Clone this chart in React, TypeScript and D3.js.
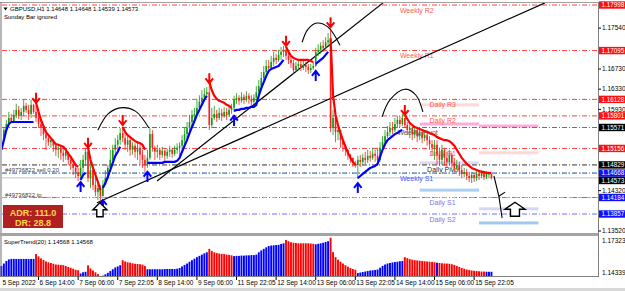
import React from 'react';
import * as d3 from 'd3';

// ---------- DATA ----------
const firstOpen = 1.1513;
const closes = [
1.1536,1.1552,1.1564,1.1576,1.1570,1.1582,1.1592,1.1580,1.1588,1.1600,
1.1592,1.1584,1.1602,1.1588,1.1576,1.1564,1.1556,1.1544,1.1536,1.1528,
1.1532,1.1521,1.1513,1.1517,1.1507,1.1501,1.1509,1.1493,1.1485,1.1477,
1.1469,1.1461,1.1477,1.1493,1.1509,1.1457,1.1473,1.1443,1.1429,1.1437,
1.1421,1.1443,1.1457,1.1477,1.1493,1.1513,1.1523,1.1532,1.1546,1.1536,
1.1523,1.1532,1.1513,1.1521,1.1509,1.1517,1.1503,1.1493,1.1483,1.1497,
1.1544,1.1517,1.1509,1.1513,1.1503,1.1511,1.1501,1.1509,1.1513,1.1505,
1.1513,1.1517,1.1521,1.1532,1.1544,1.1556,1.1568,1.1582,1.1584,1.1596,
1.1608,1.1616,1.1623,1.1627,1.1562,1.1576,1.1584,1.1576,1.1586,1.1580,
1.1588,1.1582,1.1592,1.1596,1.1612,1.1616,1.1610,1.1618,1.1612,1.1620,
1.1614,1.1608,1.1616,1.1627,1.1639,1.1655,1.1667,1.1679,1.1675,1.1687,
1.1695,1.1691,1.1701,1.1707,1.1711,1.1699,1.1691,1.1685,1.1671,1.1679,
1.1683,1.1675,1.1681,1.1677,1.1671,1.1675,1.1679,1.1707,1.1711,1.1719,
1.1715,1.1726,1.1730,1.1556,1.1576,1.1548,1.1552,1.1532,1.1523,1.1513,
1.1503,1.1497,1.1487,1.1483,1.1493,1.1489,1.1497,1.1493,1.1501,1.1497,
1.1505,1.1501,1.1493,1.1517,1.1528,1.1540,1.1548,1.1556,1.1552,1.1564,
1.1572,1.1564,1.1576,1.1562,1.1552,1.1556,1.1544,1.1552,1.1540,1.1548,
1.1536,1.1542,1.1532,1.1524,1.1517,1.1523,1.1503,1.1493,1.1513,1.1497,
1.1489,1.1503,1.1487,1.1477,1.1483,1.1473,1.1465,1.1469,1.1461,1.1457,
1.1463,1.1457,1.1465,1.1461,1.1467,1.1459,1.1465,1.1465,1.1457];
const highs = [
1.1540,1.1556,1.1572,1.1588,1.1584,1.1592,1.1604,1.1600,1.1596,1.1612,
1.1606,1.1602,1.1612,1.1604,1.1600,1.1584,1.1570,1.1560,1.1552,1.1540,
1.1538,1.1534,1.1524,1.1523,1.1521,1.1517,1.1515,1.1509,1.1501,1.1493,
1.1485,1.1477,1.1493,1.1503,1.1517,1.1511,1.1489,1.1477,1.1457,1.1449,
1.1443,1.1453,1.1473,1.1483,1.1513,1.1523,1.1536,1.1542,1.1556,1.1556,
1.1548,1.1540,1.1536,1.1528,1.1526,1.1528,1.1523,1.1513,1.1503,1.1513,
1.1556,1.1552,1.1521,1.1523,1.1517,1.1519,1.1513,1.1515,1.1521,1.1517,
1.1521,1.1526,1.1528,1.1542,1.1556,1.1568,1.1582,1.1592,1.1596,1.1612,
1.1621,1.1631,1.1635,1.1637,1.1639,1.1596,1.1600,1.1592,1.1596,1.1594,
1.1598,1.1596,1.1600,1.1604,1.1620,1.1625,1.1621,1.1627,1.1623,1.1629,
1.1625,1.1621,1.1623,1.1639,1.1651,1.1667,1.1679,1.1691,1.1691,1.1699,
1.1707,1.1703,1.1711,1.1717,1.1719,1.1713,1.1705,1.1697,1.1691,1.1687,
1.1691,1.1689,1.1689,1.1687,1.1683,1.1683,1.1687,1.1715,1.1722,1.1726,
1.1730,1.1736,1.1744,1.1750,1.1592,1.1578,1.1560,1.1544,1.1532,1.1521,
1.1513,1.1505,1.1497,1.1491,1.1501,1.1503,1.1505,1.1509,1.1513,1.1511,
1.1517,1.1513,1.1517,1.1528,1.1540,1.1552,1.1560,1.1568,1.1568,1.1576,
1.1580,1.1580,1.1584,1.1576,1.1568,1.1564,1.1560,1.1558,1.1556,1.1556,
1.1552,1.1550,1.1546,1.1540,1.1532,1.1532,1.1532,1.1517,1.1523,1.1517,
1.1509,1.1513,1.1507,1.1497,1.1493,1.1489,1.1483,1.1477,1.1475,1.1469,
1.1469,1.1467,1.1473,1.1469,1.1473,1.1469,1.1471,1.1469,1.1465];
const lows = [
1.1509,1.1536,1.1556,1.1568,1.1566,1.1572,1.1576,1.1574,1.1572,1.1580,
1.1586,1.1572,1.1576,1.1584,1.1568,1.1556,1.1540,1.1532,1.1513,1.1521,
1.1517,1.1509,1.1501,1.1497,1.1493,1.1489,1.1493,1.1483,1.1473,1.1463,
1.1457,1.1451,1.1457,1.1469,1.1481,1.1449,1.1437,1.1433,1.1421,1.1413,
1.1409,1.1441,1.1445,1.1461,1.1477,1.1491,1.1505,1.1513,1.1523,1.1528,
1.1513,1.1509,1.1501,1.1503,1.1497,1.1493,1.1483,1.1477,1.1469,1.1477,
1.1493,1.1509,1.1493,1.1497,1.1493,1.1497,1.1491,1.1495,1.1499,1.1497,
1.1501,1.1505,1.1501,1.1513,1.1524,1.1536,1.1548,1.1560,1.1572,1.1584,
1.1594,1.1604,1.1614,1.1620,1.1552,1.1556,1.1572,1.1568,1.1572,1.1570,
1.1576,1.1572,1.1578,1.1584,1.1588,1.1604,1.1602,1.1606,1.1604,1.1608,
1.1604,1.1600,1.1604,1.1606,1.1623,1.1637,1.1651,1.1663,1.1669,1.1675,
1.1679,1.1683,1.1687,1.1691,1.1697,1.1691,1.1683,1.1675,1.1663,1.1667,
1.1671,1.1669,1.1671,1.1667,1.1663,1.1665,1.1671,1.1677,1.1699,1.1703,
1.1707,1.1711,1.1719,1.1548,1.1542,1.1528,1.1532,1.1517,1.1509,1.1501,
1.1493,1.1487,1.1479,1.1477,1.1455,1.1479,1.1483,1.1485,1.1487,1.1489,
1.1493,1.1489,1.1481,1.1489,1.1513,1.1526,1.1536,1.1540,1.1544,1.1548,
1.1556,1.1558,1.1560,1.1556,1.1542,1.1536,1.1532,1.1536,1.1528,1.1532,
1.1526,1.1530,1.1521,1.1513,1.1501,1.1493,1.1483,1.1481,1.1483,1.1481,
1.1477,1.1481,1.1477,1.1469,1.1473,1.1461,1.1457,1.1459,1.1453,1.1449,
1.1447,1.1449,1.1451,1.1453,1.1457,1.1453,1.1455,1.1457,1.1454];
const superTrend = [
1.1513,1.1532,1.1552,1.1564,1.1568,1.1568,1.1568,1.1568,1.1568,1.1568,
1.1568,1.1568,1.1568,1.1568,1.1606,1.1588,1.1572,1.1560,1.1548,1.1542,
1.1536,1.1530,1.1524,1.1523,1.1521,1.1519,1.1513,1.1505,1.1499,1.1491,
1.1483,1.1479,1.1453,1.1463,1.1467,1.1517,1.1493,1.1477,1.1463,1.1449,
1.1433,1.1437,1.1447,1.1459,1.1473,1.1487,1.1501,1.1509,1.1519,1.1558,
1.1548,1.1542,1.1538,1.1534,1.1530,1.1528,1.1526,1.1523,1.1513,1.1487,
1.1487,1.1487,1.1487,1.1487,1.1487,1.1487,1.1489,1.1489,1.1489,1.1489,
1.1489,1.1491,1.1497,1.1509,1.1521,1.1532,1.1546,1.1558,1.1570,1.1582,
1.1592,1.1602,1.1612,1.1620,1.1647,1.1631,1.1620,1.1614,1.1610,1.1608,
1.1606,1.1602,1.1600,1.1596,1.1590,1.1592,1.1592,1.1594,1.1594,1.1596,
1.1596,1.1598,1.1598,1.1602,1.1620,1.1635,1.1647,1.1659,1.1669,1.1673,
1.1675,1.1677,1.1679,1.1685,1.1691,1.1717,1.1707,1.1699,1.1695,1.1693,
1.1691,1.1691,1.1691,1.1691,1.1691,1.1689,1.1687,1.1683,1.1687,1.1691,
1.1695,1.1701,1.1707,1.1734,1.1621,1.1582,1.1562,1.1546,1.1532,1.1519,
1.1507,1.1497,1.1489,1.1483,1.1457,1.1461,1.1465,1.1469,1.1473,1.1477,
1.1479,1.1481,1.1485,1.1499,1.1513,1.1524,1.1532,1.1536,1.1540,1.1544,
1.1546,1.1550,1.1552,1.1582,1.1574,1.1566,1.1562,1.1558,1.1556,1.1554,
1.1552,1.1550,1.1548,1.1546,1.1544,1.1542,1.1538,1.1536,1.1534,1.1532,
1.1532,1.1530,1.1526,1.1521,1.1513,1.1505,1.1497,1.1491,1.1485,1.1481,
1.1477,1.1475,1.1473,1.1471,1.1469,1.1469,1.1467,1.1467,1.1467];
// bar index where the SuperTrend direction changes (alternating, first = up)
const trendFlips = [0, 14, 32, 35, 41, 49, 59, 84, 94, 115, 127, 133, 144, 163];
const histBlueExtra = [176, 196, 197, 198];

const timeLabels = ['5 Sep 2022', '6 Sep 14:00', '7 Sep 06:00', '7 Sep 22:05', '8 Sep 14:00', '9 Sep 06:00',
  '11 Sep 22:05', '12 Sep 14:00', '13 Sep 06:00', '13 Sep 22:05', '14 Sep 14:00', '15 Sep 06:00', '15 Sep 22:05'];
const timeLabelBars = [0, 15, 31, 47, 63, 79, 95, 111, 127, 143, 159, 175, 191];

const axisTicks = [1.17540, 1.16730, 1.16330, 1.15930, 1.14320, 1.13520];
const levelNames = ['Weekly R2', 'Weekly R1', 'Daily R3', 'Daily R2', 'Weekly Pivot', 'Daily R1', 'Daily Pivot', 'Weekly S1', 'Daily S1', 'Daily S2'];
const levelPrices = [1.17998, 1.17095, 1.16128, 1.15801, 1.15571, 1.15156, 1.14829, 1.14668, 1.14184, 1.13857];
const levelKinds = ['R', 'R', 'R', 'R', 'WP', 'R', 'DP', 'WS', 'DS', 'DS'];
const levelLabelBars = [161, 161, 173, 173, 160, 173, 172, 161, 173, 173];
const boxPrices = [1.17998, 1.17095, 1.16128, 1.15801, 1.15571, 1.15156, 1.14829, 1.14668, 1.14573, 1.14184, 1.13857];
const boxKinds = ['R', 'R', 'R', 'R', 'K', 'R', 'K', 'B', 'K', 'B', 'B'];

const bidPrice = 1.14573;
const sellPrice = 1.14668;
const tpPrice = 1.14184;
const subScale = [1.14339, 1.17323];

const dayStarts = [169, 193, 217];
const bandPricesYesterday = [1.1602, 1.1564, 1.1487, 1.1433];
const bandPricesToday = [1.1560, 1.1507, 1.1396, 1.1368];

// hand-drawn objects (bar index, price)
const trendLineA = [[38.6, 1.1408], [219.6, 1.1804]];
const trendLineB = [[62.9, 1.1451], [154.2, 1.1804]];
const arc1 = [[39.0, 1.1552], [43.1, 1.1584], [47.9, 1.1596], [54.0, 1.1590], [59.6, 1.1556]];
const arc2 = [[121.5, 1.1726], [123.9, 1.1752], [127.5, 1.1764], [132.0, 1.1756], [136.8, 1.1720]];
const arc3 = [[153.8, 1.1578], [157.0, 1.1612], [163.1, 1.1633], [167.5, 1.1621], [170.3, 1.1588]];
const scribble = [[199.0, 1.1461], [201.0, 1.1421], [202.3, 1.1378]];
const scribbleBranch = [[201.0, 1.1421], [203.5, 1.1429]];
const hollowArrows = [[39.8, 1.1408, 7], [207.5, 1.1409, 10]];

const adrText = 'ADR: 111.0';
const drText = 'DR: 28.8';

// ---------- STYLE ----------
const FONT = "'Liberation Sans', Arial, sans-serif";
const BULL = '#129a12';
const BEAR = '#ff1c1c';
const UP = '#0000ff';
const DOWN = '#ff0000';
const levelStroke: Record<string, string> = { R: '#ff4040', WP: '#707070', DP: '#303030', WS: '#2448e0', DS: '#7070ff' };
const levelText: Record<string, string> = { R: '#ff5a5a', WP: '#606060', DP: '#303030', WS: '#3a5cff', DS: '#7878e8' };
const boxFill: Record<string, string> = { R: '#ff1010', K: '#000000', B: '#1010ff' };
const bandColorsYesterday = ['#ffd8d8', '#ffaad8', '#dadaf6', '#aad0f4'];
const bandColorsToday = ['#ffaad8', '#ffd8d8', '#d6d6f6', '#a2c8f0'];
const BOX_H = 7.4;

export default function App() {
  const N = closes.length;
  const x = d3.scaleLinear().domain([0, N - 1]).range([1.4, 1.4 + (N - 1) * 2.475]);
  const y = d3.scaleLinear().domain([1.13857, 1.17998]).range([214, 5]);
  const yh = d3.scaleLinear().domain(subScale).range([276, 238]);

  const opens = closes.map((c, i) => (i === 0 ? firstOpen : closes[i - 1]));
  const trend: number[] = new Array(N).fill(1);
  trendFlips.forEach((s, k) => {
    const e = k + 1 < trendFlips.length ? trendFlips[k + 1] : N;
    for (let i = s; i < e; i++) trend[i] = k % 2 === 0 ? 1 : -1;
  });

  const pline = d3.line<number[]>().x(d => x(d[0])).y(d => y(d[1]));
  const curve = d3.line<number[]>().x(d => x(d[0])).y(d => y(d[1])).curve(d3.curveCatmullRom);

  const segments = trendFlips.map((s, k) => {
    const e = k + 1 < trendFlips.length ? trendFlips[k + 1] : N;
    const pts = d3.range(s, e).map(i => [i, superTrend[i]]);
    return { pts, dir: k % 2 === 0 ? 1 : -1 };
  });

  // price label boxes, pushed apart when they would overlap
  const boxes = boxPrices.map((p, k) => ({ p, kind: boxKinds[k], cy: y(p) })).sort((a, b) => a.cy - b.cy);
  for (let k = 1; k < boxes.length; k++) {
    if (boxes[k].cy - boxes[k - 1].cy < BOX_H) boxes[k].cy = boxes[k - 1].cy + BOX_H;
  }

  const dash = '5,2,1,2';

  return (
    <div style={{ position: 'absolute', left: 0, top: 0 }}>
      <style>{'body{margin:0}'}</style>
      <svg width={625} height={291} viewBox="0 0 625 291" style={{ display: 'block', background: '#fff' }} fontFamily={FONT}>
        <defs>
          <clipPath id="mainClip"><rect x={2} y={3} width={596} height={230} /></clipPath>
        </defs>
        <rect x={0} y={0} width={625} height={291} fill="#ffffff" />

        <g clipPath="url(#mainClip)">
          {/* pivot bands */}
          {bandPricesYesterday.map((p, k) => (
            <rect key={'by' + k} x={x(dayStarts[0])} width={x(dayStarts[1]) - x(dayStarts[0])} y={y(p) - 1.5} height={3} fill={bandColorsYesterday[k]} />
          ))}
          {bandPricesToday.map((p, k) => (
            <rect key={'bt' + k} x={x(dayStarts[1])} width={x(dayStarts[2]) - x(dayStarts[1])} y={y(p) - 1.5} height={3} fill={bandColorsToday[k]} />
          ))}

          {/* bid line */}
          <line x1={2} x2={598} y1={y(bidPrice)} y2={y(bidPrice)} stroke="#c4c4c4" strokeWidth={1} />
          {/* level lines */}
          {levelPrices.map((p, k) => (
            <line key={'lv' + k} x1={2} x2={598} y1={y(p)} y2={y(p)} stroke={levelStroke[levelKinds[k]]} strokeWidth={1} strokeDasharray={dash} />
          ))}
          {/* order lines */}
          <line x1={2} x2={598} y1={y(sellPrice)} y2={y(sellPrice)} stroke="#22a022" strokeWidth={0.8} strokeDasharray="1,5" strokeDashoffset={-2} />
          <line x1={2} x2={598} y1={y(tpPrice)} y2={y(tpPrice)} stroke="#ff9070" strokeWidth={1.2} strokeDasharray="4,5" />

          {/* level labels */}
          {levelNames.map((n, k) => (
            <text key={'ll' + k} x={x(levelLabelBars[k])} y={y(levelPrices[k]) + 7.5} fontSize={7} fill={levelText[levelKinds[k]]}>{n}</text>
          ))}

          {/* order labels */}
          <text x={5} y={y(sellPrice) - 1.5} fontSize={6} fill="#404040">#49736822 sell 0.20</text>
          <text x={5} y={y(tpPrice) - 0.5} fontSize={6} fill="#404040">#49736822 tp</text>

          {/* trend lines */}
          <path d={pline(trendLineA) || ''} stroke="#000" strokeWidth={1.2} fill="none" />
          <path d={pline(trendLineB) || ''} stroke="#000" strokeWidth={1.2} fill="none" />

          {/* candles */}
          {closes.map((c, i) => {
            const o = opens[i];
            const hi = Math.max(highs[i], o, c);
            const lo = Math.min(lows[i], o, c);
            const col = c >= o ? BULL : BEAR;
            const yt = y(Math.max(o, c));
            const yb = y(Math.min(o, c));
            return (
              <g key={'c' + i}>
                <line x1={x(i)} x2={x(i)} y1={y(hi)} y2={y(lo)} stroke={col} strokeWidth={0.8} />
                <rect x={x(i) - 0.8} y={yt} width={1.6} height={Math.max(0.8, yb - yt)} fill={col} />
              </g>
            );
          })}

          {/* supertrend line */}
          {segments.map((s, k) => (
            <path key={'st' + k} d={pline(s.pts) || ''} stroke={s.dir > 0 ? UP : DOWN} strokeWidth={2.2} fill="none" strokeLinejoin="round" />
          ))}

          {/* arrows */}
          {trendFlips.slice(1).map((i, k) => {
            const cx = x(i);
            if (trend[i] > 0) {
              const tip = y(Math.min(lows[i], opens[i], closes[i])) + 4;
              return <path key={'ar' + k} d={`M${cx},${tip} L${cx},${tip + 10} M${cx - 3.8},${tip + 4.8} L${cx},${tip} L${cx + 3.8},${tip + 4.8}`} stroke={UP} strokeWidth={2} fill="none" />;
            }
            const tip = y(Math.max(highs[i], opens[i], closes[i])) - 3;
            return <path key={'ar' + k} d={`M${cx},${tip} L${cx},${tip - 10} M${cx - 3.8},${tip - 4.8} L${cx},${tip} L${cx + 3.8},${tip - 4.8}`} stroke={DOWN} strokeWidth={2} fill="none" />;
          })}

          {/* hand drawn arcs */}
          {[arc1, arc2, arc3].map((a, k) => (
            <path key={'arc' + k} d={curve(a) || ''} stroke="#000" strokeWidth={1.1} fill="none" />
          ))}
          <path d={pline(scribble) || ''} stroke="#000" strokeWidth={1.1} fill="none" />
          <path d={pline(scribbleBranch) || ''} stroke="#000" strokeWidth={1.1} fill="none" />
          {hollowArrows.map((h, k) => {
            const cx = x(h[0]);
            const t = y(h[1]);
            const w = h[2];
            const pts = [[cx, t], [cx + w, t + 7], [cx + w * 0.45, t + 7], [cx + w * 0.45, t + 14], [cx - w * 0.45, t + 14], [cx - w * 0.45, t + 7], [cx - w, t + 7]];
            return <polygon key={'ha' + k} points={pts.map(p => p.join(',')).join(' ')} fill="#fff" stroke="#000" strokeWidth={1.4} />;
          })}

          {/* ADR box */}
          <rect x={3} y={205} width={60} height={23} fill="#b02020" />
          <text x={33} y={215.5} fontSize={9} fontWeight="bold" fill="#ffd84a" textAnchor="middle">{adrText}</text>
          <text x={33} y={226} fontSize={9} fontWeight="bold" fill="#ffd84a" textAnchor="middle">{drText}</text>

          {/* header */}
          <path d="M3.5,7.5 L7.5,7.5 L5.5,10.5 Z" fill="#000" />
          <text x={10} y={11} fontSize={6} fill="#000">GBPUSD,H1  1.14648 1.14648 1.14539 1.14573</text>
          <text x={4} y={19} fontSize={6} fill="#000">Sunday Bar ignored</text>
        </g>

        {/* sub window histogram */}
        {superTrend.map((v, i) => {
          const blue = trend[i] > 0 || histBlueExtra.includes(i);
          return <rect key={'h' + i} x={x(i) - 0.95} y={yh(v)} width={1.9} height={276 - yh(v)} fill={blue ? UP : DOWN} />;
        })}
        <text x={4} y={243.5} fontSize={6} fill="#000">SuperTrend(20) 1.14568 1.14568</text>

        {/* frames */}
        <line x1={0} x2={598.5} y1={2.5} y2={2.5} stroke="#a0a0a0" strokeWidth={1} />
        <line x1={1} x2={1} y1={2} y2={277} stroke="#707070" strokeWidth={1} />
        <rect x={0} y={233} width={599} height={3} fill="#a4a4a4" />
        <line x1={0} x2={598.5} y1={276.5} y2={276.5} stroke="#808080" strokeWidth={1} />
        <line x1={598.5} x2={598.5} y1={2} y2={277} stroke="#808080" strokeWidth={1} />
        <rect x={0} y={288} width={625} height={3} fill="#d8d8d8" />

        {/* price axis */}
        {axisTicks.map((p, k) => (
          <g key={'at' + k}>
            <line x1={598.5} x2={601} y1={y(p)} y2={y(p)} stroke="#000" strokeWidth={1} />
            <text x={602} y={y(p) + 2.3} fontSize={6.5} fill="#000">{p.toFixed(5)}</text>
          </g>
        ))}
        {boxes.map((b, k) => (
          <g key={'bx' + k}>
            <rect x={599} y={b.cy - BOX_H / 2} width={26} height={BOX_H} fill={boxFill[b.kind]} />
            <text x={601.5} y={b.cy + 2.3} fontSize={6.3} fill="#fff">{b.p.toFixed(5)}</text>
          </g>
        ))}
        {/* sub axis */}
        <text x={602} y={yh(subScale[1]) + 4.5} fontSize={6.5} fill="#000">{subScale[1].toFixed(5)}</text>
        <text x={602} y={yh(subScale[0]) - 1} fontSize={6.5} fill="#000">{subScale[0].toFixed(5)}</text>

        {/* time axis */}
        {timeLabels.map((t, k) => (
          <g key={'tl' + k}>
            {k > 0 && <line x1={x(timeLabelBars[k])} x2={x(timeLabelBars[k])} y1={276.5} y2={280} stroke="#000" strokeWidth={1} />}
            <text x={x(timeLabelBars[k]) + 1} y={285} fontSize={6.5} fill="#000">{t}</text>
          </g>
        ))}
      </svg>
    </div>
  );
}
